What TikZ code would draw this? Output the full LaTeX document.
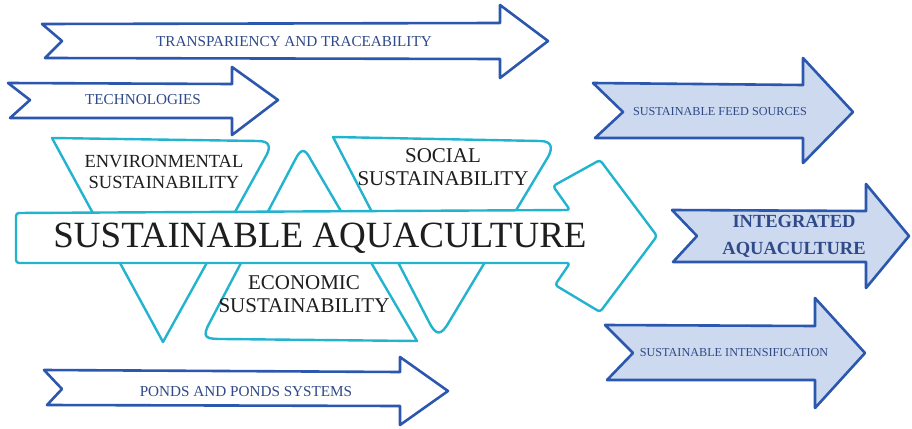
\documentclass[tikz,border=0pt]{standalone}
\usepackage{fontspec}
\setmainfont{Liberation Serif}
\definecolor{cyanline}{HTML}{22B3CF}
\definecolor{blueline}{HTML}{2B57AE}
\definecolor{bluefill}{HTML}{CCD9EE}
\definecolor{bluetext}{HTML}{2F4A88}
\definecolor{darktext}{HTML}{1E1E1E}
\begin{document}
\begin{tikzpicture}[x=1pt,y=-1pt,
  outarrow/.style={draw=blueline,line width=2.6pt,line join=round,fill=white},
  inarrow/.style={outarrow,fill=bluefill},
  cyanshape/.style={draw=cyanline,line width=2.4pt,line join=round,fill=white},
  bluelabel/.style={text=bluetext,font=\fontsize{15.2}{17}\selectfont,inner sep=0pt},
  tinylabel/.style={text=bluetext,font=\fontsize{12.2}{14}\selectfont,inner sep=0pt},
  boldlabel/.style={text=bluetext,font=\fontsize{18.5}{27}\selectfont\bfseries,align=center,inner sep=0pt},
  envlabel/.style={text=darktext,font=\fontsize{18.5}{20.5}\selectfont,align=center,inner sep=0pt},
  pillarlabel/.style={text=darktext,font=\fontsize{21}{23}\selectfont,align=center,inner sep=0pt},
  mainlabel/.style={text=darktext,font=\fontsize{37}{42}\selectfont,inner sep=0pt}]
\useasboundingbox (0,0) rectangle (912,428);

% outer (white) arrows
\draw[outarrow] (42,24) -- (500,23) -- (500,5) -- (548,41) -- (500,78) -- (500,59) -- (45,58) -- (62,41) -- cycle;
\node[bluelabel] (transp) at (294,42) {TRANSPARIENCY AND TRACEABILITY};
\draw[outarrow] (8,83) -- (232,84) -- (232,67) -- (278,100) -- (232,135) -- (232,118) -- (10,118) -- (30,100) -- cycle;
\node[bluelabel] (tech) at (143,100) {TECHNOLOGIES};
\draw[outarrow] (44,370) -- (400,372) -- (400,357) -- (448,391) -- (400,425) -- (400,406) -- (47,405) -- (62,389) -- cycle;
\node[bluelabel] (ponds) at (246,392) {PONDS AND PONDS SYSTEMS};

% right (filled) arrows
\draw[inarrow] (593,83) -- (803,85) -- (803,58) -- (853,112) -- (803,163) -- (803,138) -- (595,138) -- (623,112) -- cycle;
\node[tinylabel] (feed) at (720,112) {SUSTAINABLE FEED SOURCES};
\draw[inarrow] (672,210) -- (866,211) -- (866,184) -- (909,236) -- (866,288) -- (866,262) -- (673,262) -- (697,236) -- cycle;
\node[boldlabel] (integ) at (794,236) {INTEGRATED\\AQUACULTURE};
\draw[inarrow] (605,325) -- (815,326) -- (815,298) -- (865,353) -- (815,408) -- (815,380) -- (607,380) -- (633,353) -- cycle;
\node[tinylabel] (intens) at (734,353) {SUSTAINABLE INTENSIFICATION};

% triangles
\draw[cyanshape] (52,138) -- (258,141) .. controls (270,141) and (271,147) .. (266,156) -- (163,342) -- cycle;
\draw[cyanshape] (417,341) -- (311,160) .. controls (305,148) and (301,148) .. (295,160) -- (210,322) .. controls (201,338) and (206,339) .. (222,339) -- cycle;
\draw[cyanshape] (333,137) -- (540,141) .. controls (552,141) and (553,148) .. (548,157) -- (449,322) .. controls (441,336) and (436,336) .. (429,322) -- cycle;

% central arrow
\draw[cyanshape,rounded corners=3pt] (16,213) -- (570,210) -- (553,186) -- (600,160) -- (657,236) -- (600,312) -- (555,285) -- (570,263) -- (16,263) -- cycle;

\node[envlabel] (env) at (164,172) {ENVIRONMENTAL\\SUSTAINABILITY};
\node[pillarlabel] (soc) at (443,167.5) {SOCIAL\\SUSTAINABILITY};
\node[pillarlabel] (eco) at (304,294.5) {ECONOMIC\\SUSTAINABILITY};
\node[mainlabel] (main) at (320,238) {SUSTAINABLE AQUACULTURE};
\end{tikzpicture}
\end{document}
